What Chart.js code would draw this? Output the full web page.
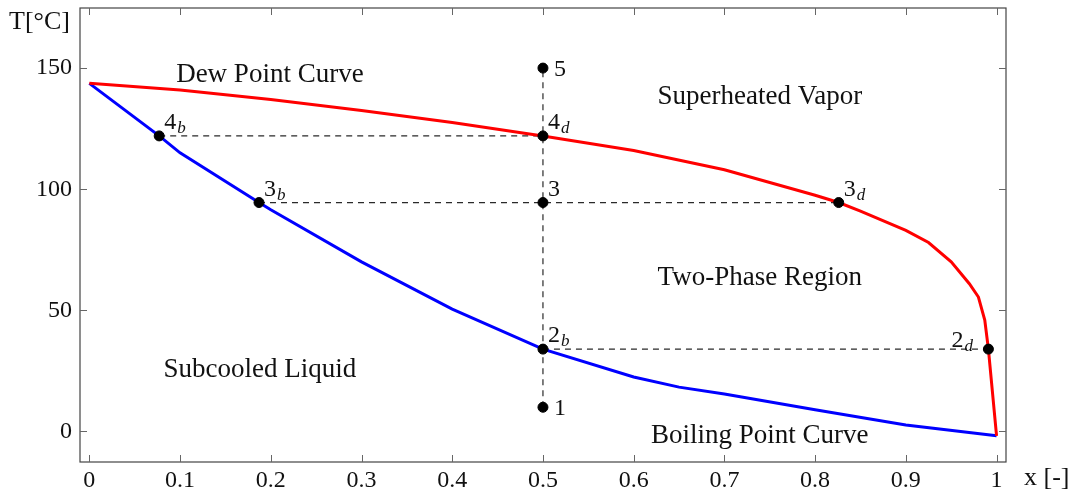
<!DOCTYPE html>
<html>
<head>
<meta charset="utf-8">
<script src="https://cdn.jsdelivr.net/npm/chart.js@4"></script>
<style>
  html, body { margin: 0; padding: 0; background: #fff; }
  #wrap { width: 1079px; height: 498px; }
</style>
</head>
<body>
<div id="wrap"><canvas id="phase-chart" aria-label="phase diagram" role="img"></canvas></div>
<script>
// dew point curve (red)
let dewX = [0, 0.1, 0.2, 0.3, 0.4, 0.5, 0.6, 0.7, 0.8, 0.826, 0.85, 0.9, 0.925, 0.95, 0.97, 0.98, 0.987, 0.991, 1.0];
let dewT = [143.7, 141, 137, 132.5, 127.5, 122, 116, 108, 97.5, 94.5, 91, 83, 78, 70, 61, 55.5, 46, 34, -1.8];

// boiling point curve (blue)
let boilX = [0, 0.077, 0.1, 0.187, 0.2, 0.3, 0.4, 0.5, 0.6, 0.65, 0.7, 0.8, 0.9, 1.0];
let boilT = [143.7, 122, 115, 94.5, 91.5, 70, 50.5, 34, 22.5, 18.3, 15.5, 9, 2.7, -1.8];

// state points
let pointNames = ['1', '2', '2', '3', '3', '3', '4', '4', '5'];
let pointSubs  = ['', 'b', 'd', 'b', '', 'd', 'b', 'd', ''];
let pointX = [0.5, 0.5, 0.991, 0.187, 0.5, 0.826, 0.077, 0.5, 0.5];
let pointT = [10, 34, 34, 94.5, 94.5, 94.5, 122, 122, 150];

// dashed guide lines [x1, T1, x2, T2]
let guideLines = [
  [0.5, 10, 0.5, 150],
  [0.077, 122, 0.5, 122],
  [0.187, 94.5, 0.826, 94.5],
  [0.5, 34, 0.991, 34],
];

// region labels
let regionNames = ['Dew Point Curve', 'Superheated Vapor', 'Two-Phase Region', 'Subcooled Liquid', 'Boiling Point Curve'];
let regionX = [0.199, 0.739, 0.739, 0.188, 0.739];
let regionT = [147, 138, 63.5, 25.5, -1.8];

let xTicks = [0, 0.1, 0.2, 0.3, 0.4, 0.5, 0.6, 0.7, 0.8, 0.9, 1];
let yTicks = [0, 50, 100, 150];

let serif = '"Liberation Serif", "DejaVu Serif", serif';

let zip = (xs, ys) => xs.map((x, i) => ({ x: x, y: ys[i] }));

let datasets = [];
guideLines.forEach(g => {
  datasets.push({
    data: [{ x: g[0], y: g[1] }, { x: g[2], y: g[3] }],
    showLine: true, borderColor: '#2a2a2a', borderWidth: 1.2, borderDash: [6, 5],
    pointRadius: 0, order: 3,
  });
});
datasets.push({
  label: 'Dew Point Curve', data: zip(dewX, dewT), showLine: true,
  borderColor: '#ff0000', borderWidth: 3, pointRadius: 0, order: 2,
});
datasets.push({
  label: 'Boiling Point Curve', data: zip(boilX, boilT), showLine: true,
  borderColor: '#0000ff', borderWidth: 3, pointRadius: 0, order: 2,
});
datasets.push({
  label: 'points', data: zip(pointX, pointT), showLine: false,
  backgroundColor: '#000', borderColor: '#000', pointRadius: 5, order: 1,
});

let decorations = {
  id: 'decorations',
  afterDraw(chart) {
    let ctx = chart.ctx;
    let xs = chart.scales.x, ys = chart.scales.y;
    let a = chart.chartArea;
    ctx.save();
    // frame
    ctx.strokeStyle = '#444';
    ctx.lineWidth = 1.2;
    ctx.strokeRect(a.left, a.top, a.right - a.left, a.bottom - a.top);
    // inward ticks on all sides
    ctx.strokeStyle = '#666';
    ctx.lineWidth = 1;
    ctx.beginPath();
    xTicks.forEach(v => {
      let px = Math.round(xs.getPixelForValue(v)) + 0.5;
      ctx.moveTo(px, a.bottom); ctx.lineTo(px, a.bottom - 7);
      ctx.moveTo(px, a.top); ctx.lineTo(px, a.top + 7);
    });
    yTicks.forEach(v => {
      let py = Math.round(ys.getPixelForValue(v)) + 0.5;
      ctx.moveTo(a.left, py); ctx.lineTo(a.left + 7, py);
      ctx.moveTo(a.right, py); ctx.lineTo(a.right - 7, py);
    });
    ctx.stroke();

    // region labels
    ctx.fillStyle = '#111';
    ctx.font = '27px ' + serif;
    ctx.textAlign = 'center';
    ctx.textBaseline = 'middle';
    regionNames.forEach((t, i) => {
      ctx.fillText(t, xs.getPixelForValue(regionX[i]), ys.getPixelForValue(regionT[i]));
    });

    // point labels
    pointNames.forEach((n, i) => {
      let px = xs.getPixelForValue(pointX[i]);
      let py = ys.getPixelForValue(pointT[i]);
      let sub = pointSubs[i];
      let bx, by;
      if (n === '1' || n === '5') { bx = px + 11; by = py + 8; }
      else if (sub === 'd' && n === '2') { bx = px - 37; by = py - 2; }
      else { bx = px + 5; by = py - 7; }
      ctx.textAlign = 'left';
      ctx.textBaseline = 'alphabetic';
      ctx.font = '24px ' + serif;
      ctx.fillText(n, bx, by);
      if (sub) {
        let w = ctx.measureText(n).width;
        ctx.font = 'italic 17px ' + serif;
        ctx.fillText(sub, bx + w + 1, by + 4);
      }
    });

    // axis titles
    ctx.font = '26px ' + serif;
    ctx.textAlign = 'left';
    ctx.textBaseline = 'middle';
    ctx.fillText('T[°C]', 9, 22);
    ctx.fillText('x [-]', 1024, 478);
    ctx.restore();
  }
};

new Chart(document.getElementById('phase-chart'), {
  type: 'scatter',
  data: { datasets: datasets },
  options: {
    responsive: true,
    maintainAspectRatio: false,
    animation: false,
    layout: { padding: { top: 8, right: 73, left: 0, bottom: 0 } },
    plugins: { legend: { display: false }, tooltip: { enabled: false } },
    scales: {
      x: {
        type: 'linear', min: -0.0103, max: 1.0104,
        afterFit: s => { s.height = 36; s.paddingLeft = 0; s.paddingRight = 0; },
        afterBuildTicks: s => { s.ticks = xTicks.map(v => ({ value: v })); },
        grid: { display: false, drawTicks: false },
        border: { display: false },
        ticks: {
          color: '#111', padding: 4, maxRotation: 0, autoSkip: false,
          font: { family: serif, size: 24 },
          callback: v => String(v),
        },
      },
      y: {
        type: 'linear', min: -12.6, max: 174.8,
        afterFit: s => { s.width = 80; s.paddingTop = 0; s.paddingBottom = 0; },
        afterBuildTicks: s => { s.ticks = yTicks.map(v => ({ value: v })); },
        grid: { display: false, drawTicks: false },
        border: { display: false },
        ticks: {
          color: '#111', padding: 8,
          font: { family: serif, size: 24 },
          callback: v => String(v),
        },
      },
    },
  },
  plugins: [decorations],
});
</script>
</body>
</html>
